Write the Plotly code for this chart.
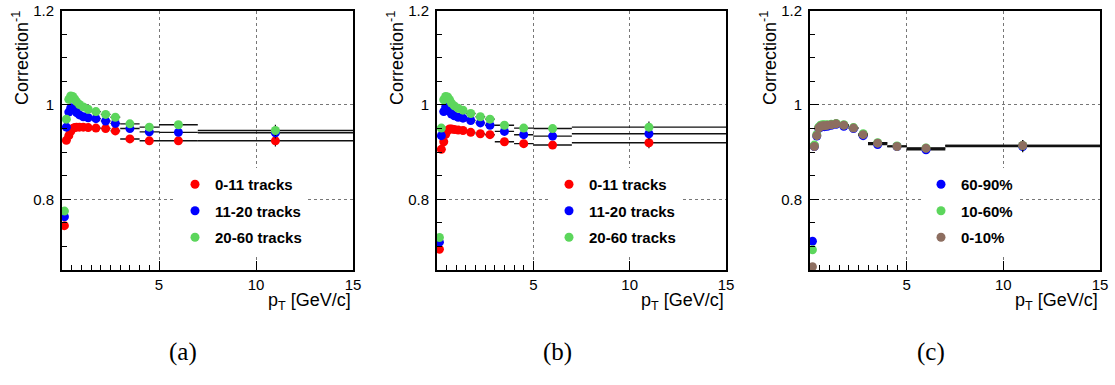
import plotly.graph_objects as go

# pT bins (GeV/c): centres and half-widths
pt = [0.125, 0.225, 0.35, 0.45, 0.55, 0.65, 0.75, 0.9, 1.1, 1.35,
      1.75, 2.25, 2.75, 3.5, 4.5, 6.0, 11.0]
pt_half = [0.025, 0.075, 0.05, 0.05, 0.05, 0.05, 0.05, 0.1, 0.1, 0.15,
           0.25, 0.25, 0.25, 0.5, 0.5, 1.0, 4.0]

# (a) multiplicity classes
a_0_11 = [0.744, 0.925, 0.935, 0.944, 0.950, 0.952, 0.953, 0.953, 0.953, 0.952,
          0.951, 0.950, 0.945, 0.928, 0.924, 0.924, 0.924]
a_11_20 = [0.763, 0.953, 0.985, 0.994, 0.993, 0.989, 0.984, 0.979, 0.975, 0.973,
           0.971, 0.966, 0.961, 0.950, 0.943, 0.942, 0.941]
a_20_60 = [0.775, 0.970, 1.012, 1.019, 1.018, 1.013, 1.007, 1.001, 0.996, 0.991,
           0.986, 0.980, 0.974, 0.960, 0.953, 0.958, 0.946]

# (b) multiplicity classes
b_0_11 = [0.694, 0.906, 0.922, 0.938, 0.946, 0.949, 0.949, 0.948, 0.947, 0.946,
          0.942, 0.939, 0.937, 0.922, 0.918, 0.915, 0.920]
b_11_20 = [0.709, 0.935, 0.986, 0.996, 0.993, 0.987, 0.981, 0.977, 0.974, 0.972,
           0.967, 0.962, 0.957, 0.944, 0.937, 0.934, 0.939]
b_20_60 = [0.719, 0.951, 1.011, 1.018, 1.017, 1.011, 1.004, 0.998, 0.993, 0.989,
           0.982, 0.975, 0.970, 0.957, 0.951, 0.950, 0.953]

# (c) centrality classes
c_60_90 = [0.711, 0.912, 0.934, 0.950, 0.953, 0.954, 0.954, 0.955, 0.957, 0.959,
           0.955, 0.950, 0.935, 0.916, 0.912, 0.905, 0.912]
c_10_60 = [0.693, 0.915, 0.937, 0.953, 0.957, 0.958, 0.958, 0.958, 0.959, 0.961,
           0.958, 0.952, 0.939, 0.920, 0.913, 0.909, 0.914]
c_0_10 = [0.657, 0.912, 0.935, 0.951, 0.955, 0.956, 0.956, 0.957, 0.958, 0.960,
          0.957, 0.951, 0.937, 0.919, 0.912, 0.908, 0.914]

# statistical uncertainties (only visible in the last bins)
y_err = [0, 0, 0, 0, 0, 0, 0, 0, 0, 0, 0, 0, 0, 0, 0, 0.004, 0.012]

mult_labels = ["0-11 tracks", "11-20 tracks", "20-60 tracks"]
cent_labels = ["60-90%", "10-60%", "0-10%"]

RED, BLUE, GREEN, BROWN = "#ff0000", "#0000ff", "#5cd65c", "#8d6e60"

panels = [
    dict(x="x", y="y", legend="legend",
         series=[(a_0_11, RED), (a_11_20, BLUE), (a_20_60, GREEN)], labels=mult_labels),
    dict(x="x2", y="y2", legend="legend2",
         series=[(b_0_11, RED), (b_11_20, BLUE), (b_20_60, GREEN)], labels=mult_labels),
    dict(x="x3", y="y3", legend="legend3",
         series=[(c_60_90, BLUE), (c_10_60, GREEN), (c_0_10, BROWN)], labels=cent_labels),
]

fig = go.Figure()
for p_i, p in enumerate(panels):
    for (vals, col), lab in zip(p["series"], p["labels"]):
        fig.add_trace(go.Scatter(
            x=pt, y=vals, mode="markers", name=lab,
            xaxis=p["x"], yaxis=p["y"], legend=p["legend"],
            legendgroup=f"{p_i}-{lab}",
            marker=dict(color=col, size=9, line=dict(width=0)),
            error_x=dict(type="data", array=pt_half, symmetric=True,
                         color="#111111", thickness=1.4, width=0),
            error_y=dict(type="data", array=y_err, symmetric=True,
                         color="#111111", thickness=1.2, width=0),
        ))

W, H = 1115, 385
plot_top, plot_bot = 10.7, 270.0
x_frames = [(62, 353), (437, 726), (810, 1100)]

font_tick = dict(family="Liberation Sans, Arial, sans-serif", size=15, color="black")
layout = dict(
    width=W, height=H, margin=dict(l=0, r=0, t=0, b=0, pad=0),
    paper_bgcolor="white", plot_bgcolor="white", showlegend=True,
)

for i, (x0, x1) in enumerate(x_frames):
    sfx = "" if i == 0 else str(i + 1)
    layout["xaxis" + sfx] = dict(
        domain=[x0 / W, x1 / W], range=[0, 15], anchor="y" + sfx,
        automargin=False,
        tickvals=[5, 10, 15], ticks="inside", ticklen=9, tickcolor="black",
        showline=True, linecolor="black", linewidth=1.5, mirror=True,
        showgrid=True, gridcolor="#777777", griddash="dot", gridwidth=1,
        zeroline=False, tickfont=font_tick, ticklabelstandoff=0,
        minor=dict(tickvals=[0.5, 1, 1.5, 2, 2.5, 3, 3.5, 4, 4.5],
                   ticks="inside", ticklen=5, tickcolor="black", showgrid=False),
    )
    layout["yaxis" + sfx] = dict(
        domain=[1 - plot_bot / H, 1 - plot_top / H], range=[0.65, 1.2],
        anchor="x" + sfx, automargin=False,
        tickvals=[0.8, 1.0, 1.2], ticktext=["0.8", "1", "1.2"],
        ticks="inside", ticklen=9, tickcolor="black",
        showline=True, linecolor="black", linewidth=2, mirror=True,
        showgrid=True, gridcolor="#777777", griddash="dot", gridwidth=1,
        zeroline=False, tickfont=font_tick, ticklabelstandoff=3,
        minor=dict(dtick=0.05, tick0=0.65, ticks="inside", ticklen=5,
                   tickcolor="black", showgrid=False),
    )

legend_left = [175, 549, 921]
for i, lx in enumerate(legend_left):
    key = "legend" if i == 0 else f"legend{i + 1}"
    layout[key] = dict(
        x=lx / W, y=1 - 168 / H, xanchor="left", yanchor="top",
        bgcolor="white", borderwidth=0, tracegroupgap=4,
        entrywidth=125, entrywidthmode="pixels",
        font=dict(family="Liberation Sans, Arial, sans-serif", size=15,
                  color="black", weight="bold"),
        itemclick=False, itemdoubleclick=False,
    )

fig.update_layout(**layout)

annotations = []
for i, (x0, x1) in enumerate(x_frames):
    # axis titles
    annotations.append(dict(
        text="p<sub>T</sub> [GeV/c]", x=x1 / W, y=1 - 301 / H,
        xref="paper", yref="paper", xanchor="right", yanchor="middle",
        showarrow=False, font=dict(family="Liberation Sans, Arial, sans-serif",
                                   size=18, color="black"),
    ))
    annotations.append(dict(
        text="Correction<sup>-1</sup>", x=(x0 - 42) / W, y=1 - 9 / H,
        xref="paper", yref="paper", xanchor="center", yanchor="top",
        textangle=-90, showarrow=False,
        font=dict(family="Liberation Sans, Arial, sans-serif", size=18, color="black"),
    ))
# sub-figure captions
for cap, cx in zip(["(a)", "(b)", "(c)"], [183, 557, 931]):
    annotations.append(dict(
        text=cap, x=cx / W, y=1 - 352 / H, xref="paper", yref="paper",
        xanchor="center", yanchor="middle", showarrow=False,
        font=dict(family="Liberation Serif, DejaVu Serif, serif", size=25, color="black"),
    ))
fig.update_layout(annotations=annotations)

fig.write_html("out.html")
